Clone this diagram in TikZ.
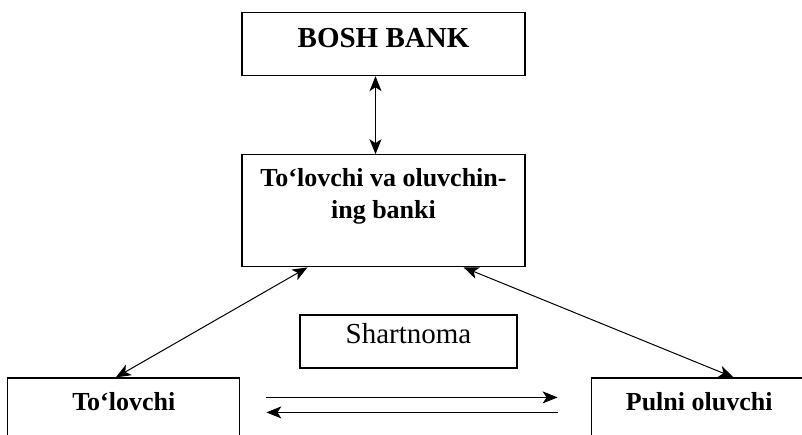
\documentclass[tikz,border=0pt]{standalone}
\usepackage{fontspec}
\setmainfont{Liberation Serif}
\usetikzlibrary{arrows.meta, positioning}

\begin{document}
\begin{tikzpicture}[
    box/.style={rectangle, draw, line width=0.6pt, inner sep=0pt, align=center, font=\fontsize{13}{16}\selectfont\bfseries},
    >={Stealth[length=7.5pt, width=6pt, inset=2pt]}, line width=0.5pt
    ]
    \useasboundingbox (0,0) rectangle (401pt,-217pt);
    \clip (0,0) rectangle (401pt,-217pt);

    \node[box, anchor=north, minimum width=141.5pt, text height=17.5pt, text depth=14pt,
          font=\fontsize{14.5}{17}\selectfont\bfseries] (bosh) at (191.75pt,-6pt) {BOSH BANK};
    \node[box, below=39pt of bosh, minimum width=141.5pt, text height=32pt, text depth=24pt] (bank) {To‘lovchi va oluvchin-\\ing banki};
    \node[box, below=23.5pt of bank, xshift=12.5pt, minimum width=108.5pt, text height=14pt, text depth=12.5pt,
          font=\fontsize{14.5}{17}\selectfont] (shart) {Shartnoma};
    \node[box, below left=55pt and 0.5pt of bank, minimum width=116pt, text height=16pt, text depth=30pt] (tolov) {To‘lovchi};
    \node[box, below right=55pt and 32.5pt of bank, minimum width=108pt, text height=16pt, text depth=30pt] (pulni) {Pulni oluvchi};

    \draw[<->] ([xshift=-4pt]bosh.south) -- ([xshift=-4pt]bank.north);
    \draw[<->] ([xshift=33pt]bank.south west) -- ([xshift=-4pt]tolov.north);
    \draw[<->] ([xshift=-31pt]bank.south east) -- ([xshift=71.5pt]pulni.north west);

    \draw[->] ([xshift=13pt, yshift=-10pt]tolov.north east) -- ([xshift=-16.5pt, yshift=-10pt]pulni.north west);
    \draw[->] ([xshift=-16.5pt, yshift=-17.5pt]pulni.north west) -- ([xshift=13pt, yshift=-17.5pt]tolov.north east);
  \end{tikzpicture}
\end{document}
